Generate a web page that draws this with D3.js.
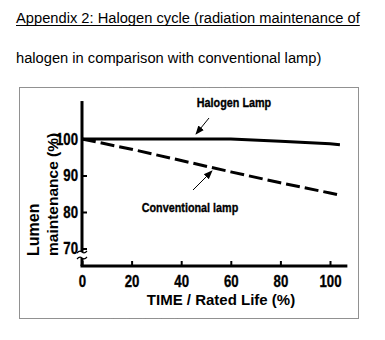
<!DOCTYPE html>
<html>
<head>
<meta charset="utf-8">
<script src="https://cdn.jsdelivr.net/npm/d3@7"></script>
<style>
  body { margin: 0; background: #fff; }
  svg { display: block; }
  .title { font-family: "Liberation Sans", Arial, sans-serif; font-size: 14.7px; fill: #000; }
  .narrow { font-family: "Liberation Sans", Arial, sans-serif; font-weight: bold; fill: #000; stroke: #000; stroke-width: 0.35px; }
  .axlabel { font-family: "Liberation Sans", Arial, sans-serif; font-weight: bold; fill: #000; }
</style>
</head>
<body>
<svg id="chart" width="385" height="340"></svg>
<script>
// time as % of rated life
var timeVals = [0, 20, 40, 60, 80, 100, 104];
// lumen maintenance (%)
var halogenVals = [100, 100, 100, 100, 99.4, 98.7, 98.4];
var conventionalVals = [100, 97.2, 94.1, 91.0, 88.0, 85.2, 84.6];
var xTicks = [0, 20, 40, 60, 80, 100];
var yTicks = [70, 80, 90, 100];

var svg = d3.select("svg#chart");
var squeeze = 0.8; // fake a narrow bold face

var x = d3.scaleLinear().domain([0, 100]).range([82, 330]);
var y = d3.scaleLinear().domain([70, 100]).range([248.5, 139]);

// title text
var title = svg.append("text").attr("class", "title").attr("x", 16).attr("y", 23)
  .text("Appendix 2: Halogen cycle (radiation maintenance of");
var tw = title.node().getComputedTextLength();
svg.append("line").attr("x1", 16).attr("x2", 16 + tw).attr("y1", 25.5).attr("y2", 25.5)
  .attr("stroke", "#000").attr("stroke-width", 1);
svg.append("text").attr("class", "title").attr("x", 16).attr("y", 63)
  .text("halogen in comparison with conventional lamp)");

// dotted frame
svg.append("rect").attr("x", 19.5).attr("y", 87.5).attr("width", 339).attr("height", 231)
  .attr("fill", "none").attr("stroke", "#222").attr("stroke-dasharray", "1,1");

var xAxisY = 266;

// x axis
var gx = svg.append("g").attr("transform", "translate(0," + xAxisY + ")")
  .call(d3.axisBottom(x).tickValues(xTicks).tickSizeInner(-5).tickSizeOuter(0).tickPadding(9));
gx.select(".domain").remove();
gx.selectAll(".tick line").attr("stroke-width", 2);
gx.selectAll(".tick text").attr("class", "narrow").attr("font-size", 16.5)
  .attr("transform", "scale(" + squeeze + ",1)");
svg.append("line").attr("x1", x(0) - 1.5).attr("x2", x(107)).attr("y1", xAxisY).attr("y2", xAxisY)
  .attr("stroke", "#000").attr("stroke-width", 3);

// y axis
var gy = svg.append("g").attr("transform", "translate(" + x(0) + ",0)")
  .call(d3.axisLeft(y).tickValues(yTicks).tickSizeInner(-5).tickSizeOuter(0).tickPadding(5));
gy.select(".domain").remove();
gy.selectAll(".tick line").attr("stroke-width", 2);
gy.selectAll(".tick text").attr("class", "narrow").attr("font-size", 16.5)
  .attr("transform", "scale(" + squeeze + ",1)");

// y axis line with break
var breakTop = 252, breakBot = 258;
svg.append("line").attr("x1", x(0)).attr("x2", x(0)).attr("y1", y(110.4)).attr("y2", breakTop)
  .attr("stroke", "#000").attr("stroke-width", 3);
svg.append("line").attr("x1", x(0)).attr("x2", x(0)).attr("y1", breakBot).attr("y2", xAxisY)
  .attr("stroke", "#000").attr("stroke-width", 3);
[breakTop, breakBot].forEach(function(by) {
  svg.append("path")
    .attr("d", "M" + (x(0) - 5) + "," + (by + 1) + " q2.5,-3 5,-1 q2.5,2 5,-1")
    .attr("fill", "none").attr("stroke", "#000").attr("stroke-width", 1.2);
});

// series
var line = d3.line().x(function(d) { return x(d[0]); }).y(function(d) { return y(d[1]); });
svg.append("path").datum(d3.zip(timeVals, halogenVals)).attr("d", line)
  .attr("fill", "none").attr("stroke", "#000").attr("stroke-width", 3);
svg.append("path").datum(d3.zip(timeVals, conventionalVals)).attr("d", line)
  .attr("fill", "none").attr("stroke", "#000").attr("stroke-width", 3)
  .attr("stroke-dasharray", "14,5");

// annotations
svg.append("defs").append("marker").attr("id", "ah")
  .attr("viewBox", "0 0 10 10").attr("refX", 9).attr("refY", 5)
  .attr("markerWidth", 9).attr("markerHeight", 9).attr("orient", "auto")
  .attr("markerUnits", "userSpaceOnUse")
  .append("path").attr("d", "M0,1 L10,5 L0,9 z").attr("fill", "#000");

function narrowLabel(cx, cy, txt) {
  svg.append("text").attr("class", "narrow").attr("font-size", 13.5)
    .attr("transform", "translate(" + cx + "," + cy + ") scale(" + squeeze + ",1)")
    .attr("text-anchor", "middle").text(txt);
}
narrowLabel(234, 107, "Halogen Lamp");
svg.append("line").attr("x1", 209).attr("y1", 118).attr("x2", 196).attr("y2", 134)
  .attr("stroke", "#000").attr("stroke-width", 1).attr("marker-end", "url(#ah)");

narrowLabel(190, 212, "Conventional lamp");
svg.append("line").attr("x1", 193).attr("y1", 190).attr("x2", 212).attr("y2", 171)
  .attr("stroke", "#000").attr("stroke-width", 1).attr("marker-end", "url(#ah)");

// axis titles
svg.append("text").attr("class", "axlabel").attr("font-size", 16)
  .attr("transform", "translate(39,256) rotate(-90)").text("Lumen");
svg.append("text").attr("class", "axlabel").attr("font-size", 15.5)
  .attr("transform", "translate(58,256) rotate(-90)").text("maintenance (%)");
svg.append("text").attr("class", "axlabel").attr("font-size", 15)
  .attr("x", 221).attr("y", 305).attr("text-anchor", "middle").text("TIME / Rated Life  (%)");
</script>
</body>
</html>
